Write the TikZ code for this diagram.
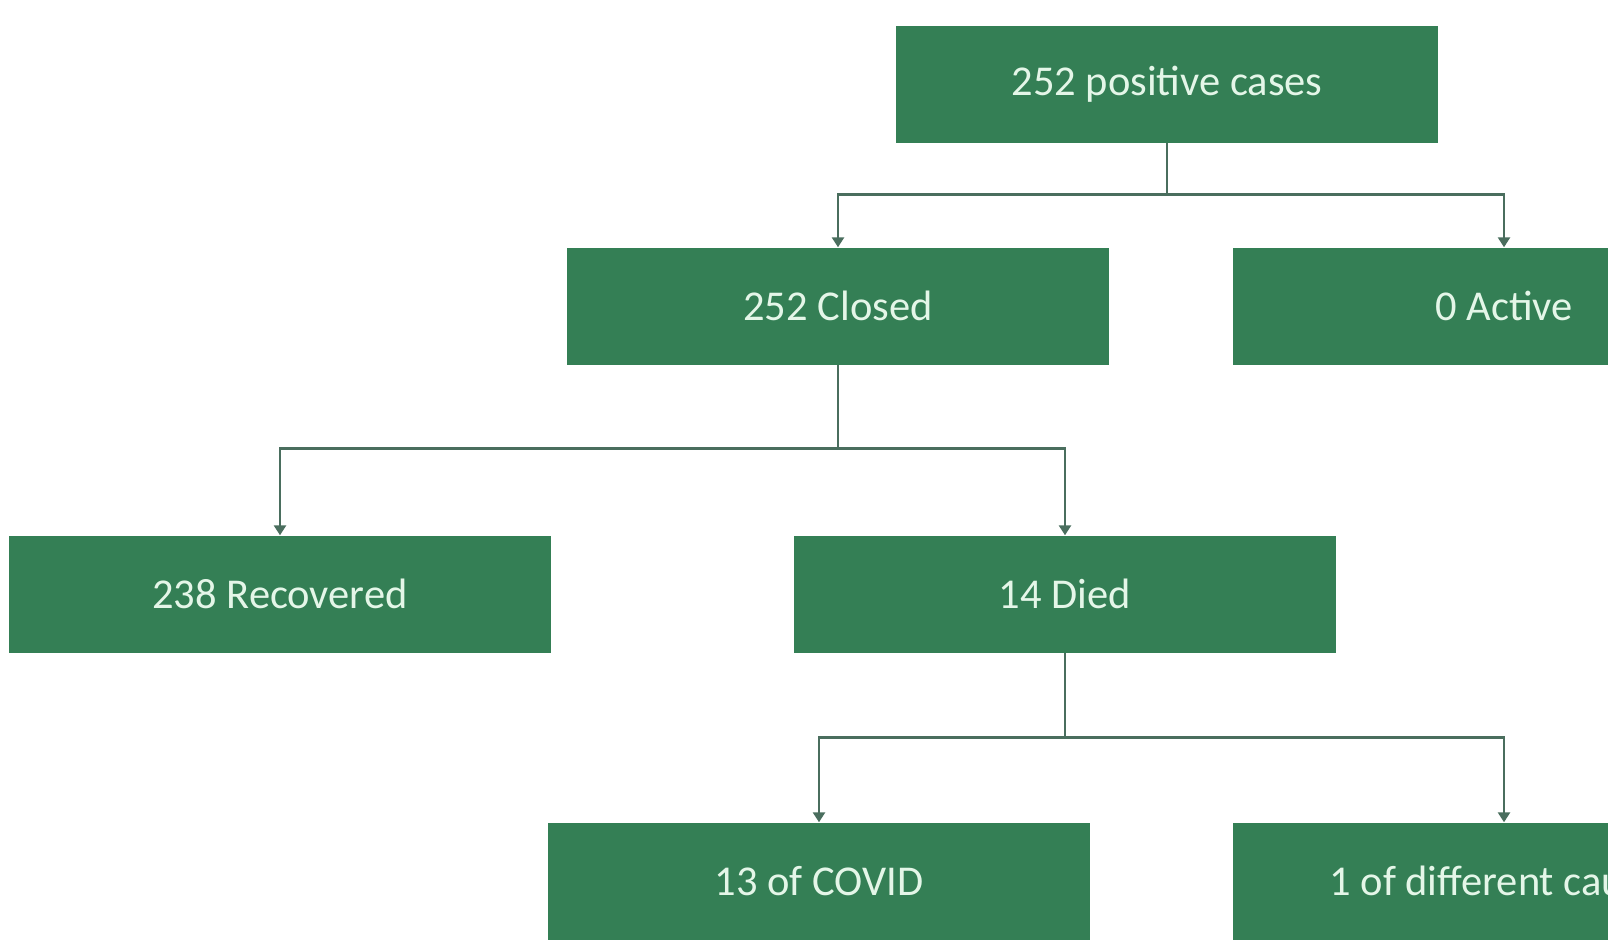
\documentclass[tikz,border=0pt]{standalone}
\usepackage{fontspec}
\setmainfont{Carlito}
\usetikzlibrary{arrows.meta}
\definecolor{boxgreen}{HTML}{347F55}
\definecolor{boxtext}{HTML}{E4F6E8}
\definecolor{linecol}{HTML}{4A6E5E}
\begin{document}
\begin{tikzpicture}[x=1pt,y=-1pt,
  box/.style={fill=boxgreen,draw=none,minimum width=542pt,minimum height=117pt,inner sep=0pt,
    text=boxtext,font=\fontsize{42.5}{50}\selectfont},
  conn/.style={draw=linecol,line width=2.8pt,-{Triangle[width=12pt,length=10pt]}}]
\useasboundingbox (0,0) rectangle (1608,951);
\clip (0,0) rectangle (1608,951);
\node[box] (top) at (1167,84) {252 positive cases};
\node[box] (closed) at (838,306) {252 Closed};
\node[box] (active) at (1504,306) {0 Active};
\node[box] (recov) at (280,594) {238 Recovered};
\node[box] (died) at (1065,594) {14 Died};
\node[box] (covid) at (819,881) {13 of COVID};
\node[box] (other) at (1504,881) {1 of different causes};
\draw[conn] (top.south) -- ++(0,52) coordinate (j1) -| (closed.north);
\draw[conn] (j1) -| (active.north);
\draw[conn] (closed.south) -- ++(0,84) coordinate (j2) -| (recov.north);
\draw[conn] (j2) -| (died.north);
\draw[conn] (died.south) -- ++(0,85) coordinate (j3) -| (covid.north);
\draw[conn] (j3) -| (other.north);
\end{tikzpicture}
\end{document}
